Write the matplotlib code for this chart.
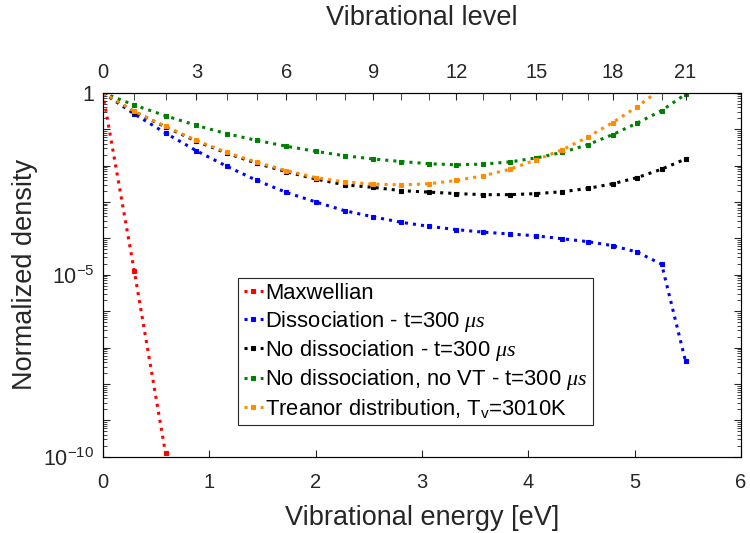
import numpy as np
import matplotlib
matplotlib.use("Agg")
import matplotlib.pyplot as plt
from matplotlib.ticker import LogLocator, FixedLocator, NullFormatter, FuncFormatter

plt.rcParams['font.family'] = ['Liberation Sans', 'DejaVu Sans']
plt.rcParams['mathtext.fontset'] = 'custom'
plt.rcParams['mathtext.it'] = 'Liberation Serif:italic'
plt.rcParams['mathtext.rm'] = 'Liberation Sans'

# vibrational levels and their energies [eV]
levels = list(range(22))
energy = [0.000, 0.297, 0.590, 0.880, 1.166, 1.449, 1.727, 2.003, 2.274, 2.543, 2.807,
          3.068, 3.325, 3.579, 3.829, 4.076, 4.318, 4.558, 4.793, 5.026, 5.254, 5.479]

# log10 of normalized density
maxw_log = [0.0, -4.91, -9.9]
diss_log = [0.0, -0.585, -1.107, -1.593, -2.02, -2.41, -2.74, -3.00, -3.24, -3.41, -3.56,
            -3.67, -3.76, -3.83, -3.88, -3.93, -4.01, -4.09, -4.20, -4.38, -4.71, -7.38]
nodiss_log = [0.0, -0.52, -0.94, -1.33, -1.66, -1.94, -2.17, -2.37, -2.53, -2.60, -2.69,
              -2.73, -2.77, -2.80, -2.80, -2.77, -2.72, -2.63, -2.50, -2.33, -2.10, -1.82]
novt_log = [0.0, -0.339, -0.632, -0.897, -1.126, -1.31, -1.47, -1.61, -1.73, -1.82, -1.89,
            -1.95, -1.98, -1.96, -1.90, -1.79, -1.64, -1.43, -1.15, -0.83, -0.49, -0.04]
treanor_log = [0.0, -0.513, -0.925, -1.31, -1.64, -1.91, -2.14, -2.33, -2.45, -2.51, -2.53,
               -2.50, -2.41, -2.28, -2.10, -1.84, -1.57, -1.22, -0.82, -0.38, 0.12, 0.65]

series = [
    (maxw_log, 'Maxwellian', '#ff0000'),
    (diss_log, r'Dissociation - t=300 $\mu s$', '#0000ff'),
    (nodiss_log, r'No dissociation - t=300 $\mu s$', '#000000'),
    (novt_log, r'No dissociation, no VT - t=300 $\mu s$', '#008000'),
    (treanor_log, r'Treanor distribution, T$_\mathrm{v}$=3010K', '#ff8c00'),
]

fig = plt.figure(figsize=(7.5, 5.33), dpi=100)
ax = fig.add_axes([0.137, 0.143, 0.851, 0.683])

for vals, lab, col in series:
    n = len(vals)
    ax.plot(energy[:n], np.power(10.0, vals), ls=':', lw=2.2, color=col,
            marker='s', ms=3.3, mew=0.8, label=lab)

ax.set_yscale('log')
ax.set_xlim(0, 6)
ax.set_ylim(1e-10, 1)
ax.set_xticks([0, 1, 2, 3, 4, 5, 6])
ax.yaxis.set_major_locator(LogLocator(base=10, numticks=20))
ax.yaxis.set_minor_locator(LogLocator(base=10, subs=np.arange(2, 10), numticks=20))
ax.yaxis.set_minor_formatter(NullFormatter())


def ylab(v, pos):
    e = int(round(np.log10(v)))
    if e == 0:
        return '1'
    if e in (-5, -10):
        return r'$\mathregular{10^{%d}}$' % e
    return ''


ax.yaxis.set_major_formatter(FuncFormatter(ylab))
ax.tick_params(axis='both', which='both', direction='in', labelsize=14.5,
               colors='#262626', right=True, top=False)
ax.tick_params(axis='y', which='major', length=5, pad=6, labelsize=15.5)
ax.tick_params(axis='y', which='minor', length=3)
ax.tick_params(axis='x', which='major', length=5, pad=12)
for s in ax.spines.values():
    s.set_color('#262626')
    s.set_linewidth(0.8)

ax.set_xlabel('Vibrational energy [eV]', fontsize=19.5, color='#262626', labelpad=9)
ax.set_ylabel('Normalized density', fontsize=19.5, color='#262626', labelpad=4)

ax2 = ax.twiny()
ax2.set_xlim(0, 6)
ax2.set_xticks(energy[::3])
ax2.set_xticklabels([str(v) for v in levels[::3]])
ax2.xaxis.set_minor_locator(FixedLocator(energy))
ax2.tick_params(axis='x', which='both', direction='in', length=5, labelsize=14.5,
                colors='#262626', pad=8)
ax2.set_xlabel('Vibrational level', fontsize=19.5, color='#262626', labelpad=27)

leg = ax.legend(loc='upper left', bbox_to_anchor=(0.212, 0.492), fontsize=15.8,
                handlelength=0.9, handletextpad=0.1, borderpad=0.25,
                labelspacing=0.2, fancybox=False, framealpha=1,
                edgecolor='#262626', borderaxespad=0, markerscale=0.9)
leg.get_frame().set_linewidth(0.8)

fig.savefig('out.png', dpi=100)
